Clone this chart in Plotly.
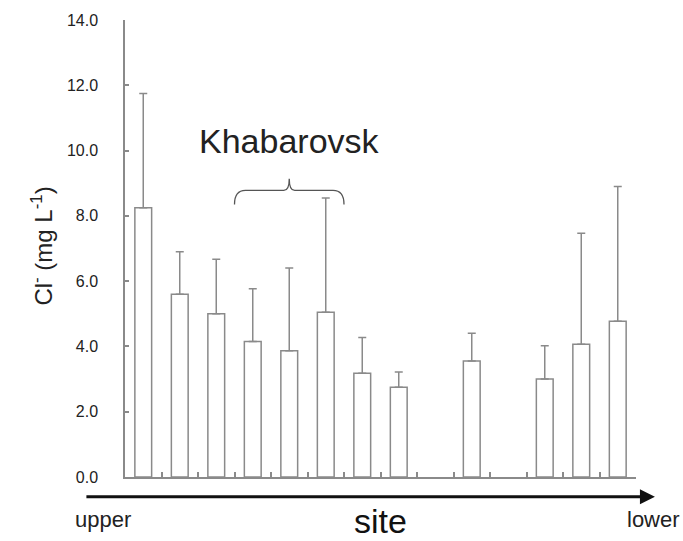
import plotly.graph_objects as go

# Chloride concentration along the river, upper -> lower reach
site_pos = [1, 2, 3, 4, 5, 6, 7, 8, 10, 12, 13, 14]
cl_mean = [8.25, 5.6, 5.0, 4.15, 3.87, 5.05, 3.18, 2.75, 3.55, 3.0, 4.07, 4.77]
cl_sd = [3.5, 1.3, 1.67, 1.62, 2.53, 3.5, 1.09, 0.47, 0.85, 1.02, 3.4, 4.13]

n_slots = 14
y_ticks = [0, 2, 4, 6, 8, 10, 12, 14]
khabarovsk_sites = [4, 5, 6]

GRAY = "#8a8a8a"
FONT = "Liberation Sans, Arial, sans-serif"

fig = go.Figure()
fig.add_trace(go.Bar(
    x=site_pos,
    y=cl_mean,
    width=0.46,
    marker=dict(color="white", line=dict(color=GRAY, width=1.5)),
    error_y=dict(type="data", array=cl_sd, arrayminus=[0] * len(cl_sd),
                 symmetric=False, color=GRAY, thickness=1.5, width=4),
    showlegend=False,
))

# brace over the Khabarovsk sites
bx0 = min(khabarovsk_sites) - 0.5
bx1 = max(khabarovsk_sites) + 0.5
bxm = (bx0 + bx1) / 2
y_end, y_mid, y_peak = 8.35, 8.78, 9.14
brace = (f"M {bx0},{y_end} Q {bx0},{y_mid} {bx0 + 0.3},{y_mid} "
         f"L {bxm - 0.15},{y_mid} Q {bxm},{y_mid} {bxm},{y_peak} "
         f"Q {bxm},{y_mid} {bxm + 0.15},{y_mid} "
         f"L {bx1 - 0.3},{y_mid} Q {bx1},{y_mid} {bx1},{y_end}")
fig.add_shape(type="path", path=brace, xref="x", yref="y",
              line=dict(color="#555555", width=1.3))

fig.add_annotation(x=bxm, y=10.3, xref="x", yref="y", text="Khabarovsk",
                   showarrow=False, font=dict(family=FONT, size=34, color="#222"))

# flow direction arrow under the axis
fig.add_annotation(x=1.037, y=-0.0434, xref="paper", yref="paper",
                   ax=-570, ay=0, axref="pixel", ayref="pixel", text="",
                   showarrow=True, arrowhead=2, arrowsize=1, arrowwidth=3,
                   arrowcolor="#111")
fig.add_annotation(x=-0.101, y=-0.092, xref="paper", yref="paper", text="upper",
                   showarrow=False, xanchor="left", yanchor="middle",
                   font=dict(family=FONT, size=22, color="#222"))
fig.add_annotation(x=0.5, y=-0.097, xref="paper", yref="paper", text="site",
                   showarrow=False, xanchor="center", yanchor="middle",
                   font=dict(family=FONT, size=34, color="#111"))
fig.add_annotation(x=0.978, y=-0.092, xref="paper", yref="paper", text="lower",
                   showarrow=False, xanchor="left", yanchor="middle",
                   font=dict(family=FONT, size=22, color="#222"))

fig.add_annotation(x=-0.195, y=0.505, xref="paper", yref="paper",
                   text="Cl<sup>-</sup> (mg L<sup>-1</sup>)", textangle=-90,
                   showarrow=False, font=dict(family=FONT, size=24, color="#222"))

fig.update_xaxes(range=[0.5, n_slots + 0.5], showgrid=False, zeroline=False,
                 showline=True, linecolor=GRAY, linewidth=1.5,
                 tickmode="array", tickvals=[i + 0.5 for i in range(1, n_slots + 1)],
                 ticktext=[""] * n_slots, ticks="inside", ticklen=5,
                 tickcolor=GRAY, tickwidth=1.5)
fig.update_yaxes(range=[0, 14], showgrid=False, zeroline=False,
                 showline=True, linecolor=GRAY, linewidth=1.5,
                 tickmode="array", tickvals=y_ticks,
                 ticktext=[f"{v:.1f}" for v in y_ticks],
                 ticks="inside", ticklen=4, tickcolor=GRAY, tickwidth=1.5,
                 ticklabelstandoff=22,
                 tickfont=dict(family=FONT, size=16, color="#222"))

fig.update_layout(width=683, height=541,
                  margin=dict(l=125, r=47, t=16, b=64),
                  plot_bgcolor="white", paper_bgcolor="white",
                  bargap=0.5)

fig.write_html("out.html")
